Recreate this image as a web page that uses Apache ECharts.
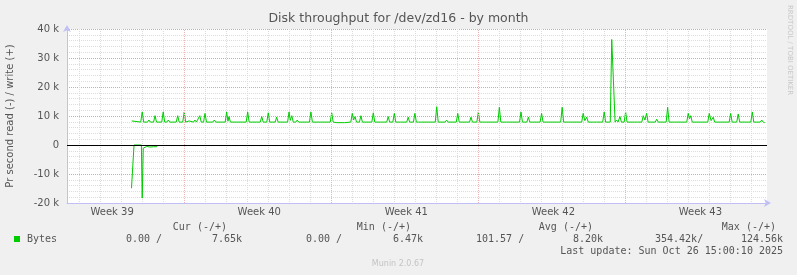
<!DOCTYPE html>
<html><head><meta charset="utf-8">
<script src="https://cdn.jsdelivr.net/npm/echarts@6/dist/echarts.min.js"></script>
<style>html,body{margin:0;padding:0;background:#f0f0f0}#c{width:797px;height:275px}</style>
</head><body><div id="c"></div>
<script>
// x values are days from the left edge of the plot (33.32 days shown)
const xMax = 33.32;
const dayLines = [0.58,1.58,2.58,3.58,4.58,6.58,7.58,8.58,9.58,10.58,11.58,13.58,14.58,15.58,16.58,17.58,18.58,20.58,21.58,22.58,23.58,24.58,25.58,27.58,28.58,29.58,30.58,31.58,32.58];
const weekLines = [5.58,12.58,19.58,26.58];
const weekLabelPos = [2.15,9.15,16.15,23.15,30.15];
const weekLabels = ['Week 39','Week 40','Week 41','Week 42','Week 43'];
const yTicks = [-20000,-10000,0,10000,20000,30000,40000];

// write (+), bytes per second in k
const writeDays = [3.08,3.17,3.51,3.58,3.65,3.83,3.90,3.97,4.12,4.19,4.26,4.51,4.58,4.65,4.75,4.82,4.89,5.20,5.27,5.34,5.51,5.58,5.65,5.74,5.81,5.88,6.02,6.09,6.16,6.25,6.32,6.39,6.50,6.57,6.64,6.94,7.01,7.08,7.53,7.60,7.66,7.71,7.78,8.53,8.60,8.67,9.20,9.27,9.34,9.51,9.58,9.65,9.91,9.98,10.05,10.50,10.57,10.63,10.70,10.77,10.89,10.96,11.03,11.54,11.61,11.68,12.53,12.60,12.67,12.85,13.20,13.51,13.58,13.64,13.71,13.78,13.92,13.99,14.06,14.51,14.58,14.65,14.91,14.98,15.05,15.22,15.29,15.36,15.51,15.58,15.65,15.86,15.93,16.00,16.17,16.24,16.31,16.49,16.56,16.63,16.73,16.80,16.87,17.53,17.60,17.67,18.00,18.07,18.14,18.53,18.60,18.67,19.16,19.23,19.30,19.51,19.58,19.65,19.79,19.86,19.93,20.51,20.58,20.65,20.91,20.98,21.05,21.54,21.61,21.68,21.89,21.96,22.03,22.52,22.59,22.66,23.50,23.57,23.64,23.90,23.97,24.04,24.50,24.57,24.65,24.74,24.81,25.06,25.13,25.20,25.50,25.57,25.64,25.86,25.93,26.01,26.09,26.16,26.23,26.32,26.39,26.52,26.59,26.66,27.01,27.08,27.15,27.36,27.43,27.51,27.59,27.66,28.00,28.07,28.14,28.52,28.59,28.66,28.90,28.97,29.04,29.50,29.57,29.63,29.69,29.76,30.50,30.57,30.66,30.76,30.83,31.52,31.59,31.66,31.88,31.95,32.02,32.55,32.62,32.69,33.00,33.07,33.14,33.21];
const writeK = [8.3,7.9,7.9,11.4,7.9,7.9,8.6,7.9,7.9,10.1,7.9,7.9,11.4,7.9,7.9,8.6,7.9,7.9,10.1,7.9,7.9,11.4,7.9,7.9,8.3,7.9,7.9,8.6,7.9,7.9,10.1,7.9,7.9,10.9,7.9,7.9,8.6,7.9,7.9,11.4,8.2,9.8,7.9,7.9,11.4,7.9,7.9,9.8,7.9,7.9,11.1,7.9,7.9,9.6,7.9,7.9,11.4,8.5,10.1,7.9,7.9,8.6,7.9,7.9,11.4,7.9,7.9,11.1,7.9,7.7,7.7,7.9,10.9,8.6,9.8,7.9,7.9,10.1,7.9,7.9,11.1,7.9,7.9,8.3,7.9,7.9,9.8,7.9,7.9,10.9,7.9,7.9,8.3,7.9,7.9,9.6,7.9,7.9,10.9,7.9,7.9,8.3,7.9,7.9,13.2,7.9,7.9,8.6,7.9,7.9,10.9,7.9,7.9,9.6,7.9,7.9,11.4,7.9,7.9,8.1,7.9,7.9,13.0,7.9,7.9,8.2,7.9,7.9,11.4,7.9,7.9,9.6,7.9,7.9,10.9,7.9,7.9,13.0,7.9,7.9,8.3,7.9,7.9,10.9,8.4,9.6,7.9,7.9,8.2,7.9,7.9,11.4,7.9,7.9,36.4,36.4,7.9,8.6,7.9,9.8,7.9,7.9,11.4,7.9,7.9,8.3,7.9,7.9,10.1,8.6,10.9,7.9,7.9,8.9,7.9,7.9,13.0,7.9,7.9,8.3,7.9,7.9,10.9,9.0,10.1,7.9,7.9,10.9,8.4,9.6,7.9,7.9,10.9,7.9,7.9,10.7,7.9,7.9,11.4,7.9,7.9,8.6,7.9,7.7];
// read (-), drawn negative, in k
const readDays = [3.07,3.15,3.19,3.54,3.58,3.63,3.71,3.79,3.87,3.95,4.03,4.11,4.19,4.27,4.33];
const readK = [-14.9,-14.9,0,0,-18.3,-1.1,-0.9,-0.5,-0.2,-0.7,-0.2,-0.6,-0.3,-0.6,0];

const legendHead = ['Cur (-/+)','Min (-/+)','Avg (-/+)','Max (-/+)'];
const legendVals = ['0.00 /','7.65k','0.00 /','6.47k','101.57 /','8.20k','354.42k/','124.56k'];
const lastUpdate = 'Last update: Sun Oct 26 15:00:10 2025';

const GREEN = '#00cc00';
const TXT = '#555';
const RED = '#eaa0a0';
const MONO = '10px "DejaVu Sans Mono", monospace';

const writeData = writeDays.map((d,i)=>[d, writeK[i]*1000]);
const readData = readDays.map((d,i)=>[d, readK[i]*1000]);

const headEnds = [227, 411, 593, 776];
const valStarts = [126, 212, 306, 393, 476, 573, 655, 741];
const graphics = [];
legendHead.forEach((t,i)=>graphics.push({type:'text', x:headEnds[i], y:227.5, style:{text:t, font:MONO, fill:TXT, align:'right', verticalAlign:'middle'}}));
legendVals.forEach((t,i)=>graphics.push({type:'text', x:valStarts[i], y:239.5, style:{text:t, font:MONO, fill:TXT, align:'left', verticalAlign:'middle'}}));
graphics.push({type:'text', x:783, y:251.5, style:{text:lastUpdate, font:MONO, fill:TXT, align:'right', verticalAlign:'middle'}});
graphics.push({type:'text', x:398, y:264, style:{text:'Munin 2.0.67', font:'8px "DejaVu Sans", sans-serif', fill:'#c4c4c4', align:'center', verticalAlign:'middle'}});
graphics.push({type:'text', x:790, y:5, rotation:-Math.PI/2, style:{text:'RRDTOOL / TOBI OETIKER', font:'7px "DejaVu Sans", sans-serif', fill:'#c8c8c8', align:'left', verticalAlign:'middle'}});

const chart = echarts.init(document.getElementById('c'), null, {renderer:'canvas'});
chart.setOption({
  animation:false,
  backgroundColor:'#f0f0f0',
  title:{text:'Disk throughput for /dev/zd16 - by month', left:'center', top:12, padding:0,
    textStyle:{fontFamily:'DejaVu Sans', fontSize:12.5, fontWeight:'normal', color:TXT}},
  legend:{data:['Bytes'], left:14, top:234, padding:0, icon:'rect', itemWidth:6, itemHeight:6, itemGap:5,
    textStyle:{fontFamily:'DejaVu Sans Mono', fontSize:10, color:TXT, padding:[0,0,0,2]}},
  grid:{left:67, right:30, top:29, bottom:72, show:true, backgroundColor:'#ffffff', borderWidth:0,
    containLabel:false, outerBoundsMode:'none'},
  xAxis:[{
    type:'value', min:0, max:xMax, position:'bottom',
    axisLine:{show:true, onZero:false, lineStyle:{color:'#c0c0f4', width:1}, symbol:['none','arrow'], symbolSize:[6,7], symbolOffset:[0,4]},
    axisTick:{show:false, customValues:dayLines},
    axisLabel:{show:false},
    splitLine:{show:true, lineStyle:{color:'#dcdcdc', type:[1,1], width:1}}
  },{
    type:'value', min:0, max:xMax, position:'bottom',
    axisLine:{show:false},
    axisTick:{show:false, customValues:weekLines},
    axisLabel:{show:true, customValues:weekLabelPos, margin:4,
      formatter:(v)=>{const i=weekLabelPos.findIndex(p=>Math.abs(p-v)<1e-6); return i>=0?weekLabels[i]:'';},
      fontFamily:'DejaVu Sans', fontSize:10, color:TXT},
    splitLine:{show:false}
  }],
  yAxis:{
    type:'value', min:-20000, max:40000, interval:10000,
    name:'Pr second read (-) / write (+)', nameLocation:'middle', nameGap:52,
    nameTextStyle:{fontFamily:'DejaVu Sans', fontSize:10, color:TXT},
    axisLine:{show:true, lineStyle:{color:'#c0c0f4', width:1}, symbol:['none','arrow'], symbolSize:[6,7], symbolOffset:[0,4]},
    axisTick:{show:false},
    axisLabel:{margin:8, fontFamily:'DejaVu Sans', fontSize:10, color:TXT,
      formatter:(v)=> yTicks.indexOf(v)<0 ? '' : (v===0 ? '0' : (v/1000)+' k')},
    splitLine:{show:true, lineStyle:{color:RED, type:[1,1], width:1}},
    minorTick:{show:false, splitNumber:5},
    minorSplitLine:{show:true, lineStyle:{color:'#dcdcdc', type:[1,1], width:1}}
  },
  graphic:graphics,
  series:[
    {name:'weeks', type:'line', xAxisIndex:0, data:[], z:1,
      markLine:{silent:true, symbol:['none','none'], label:{show:false}, animation:false,
        lineStyle:{color:'#f0b4b4', width:1, type:[1,1]}, data:weekLines.map(v=>({xAxis:v}))}},
    {name:'Bytes', type:'line', xAxisIndex:0, data:writeData, showSymbol:false, color:GREEN,
      lineStyle:{color:GREEN, width:1}, z:3},
    {name:'Bytes', type:'line', xAxisIndex:0, data:readData, showSymbol:false, color:GREEN,
      lineStyle:{color:GREEN, width:1}, z:3},
    {name:'zero', type:'line', xAxisIndex:0, data:[], z:5,
      markLine:{silent:true, symbol:['none','none'], label:{show:false}, animation:false,
        lineStyle:{color:'#000', width:1, type:'solid'}, data:[{yAxis:0}]}}
  ]
});
</script></body></html>
